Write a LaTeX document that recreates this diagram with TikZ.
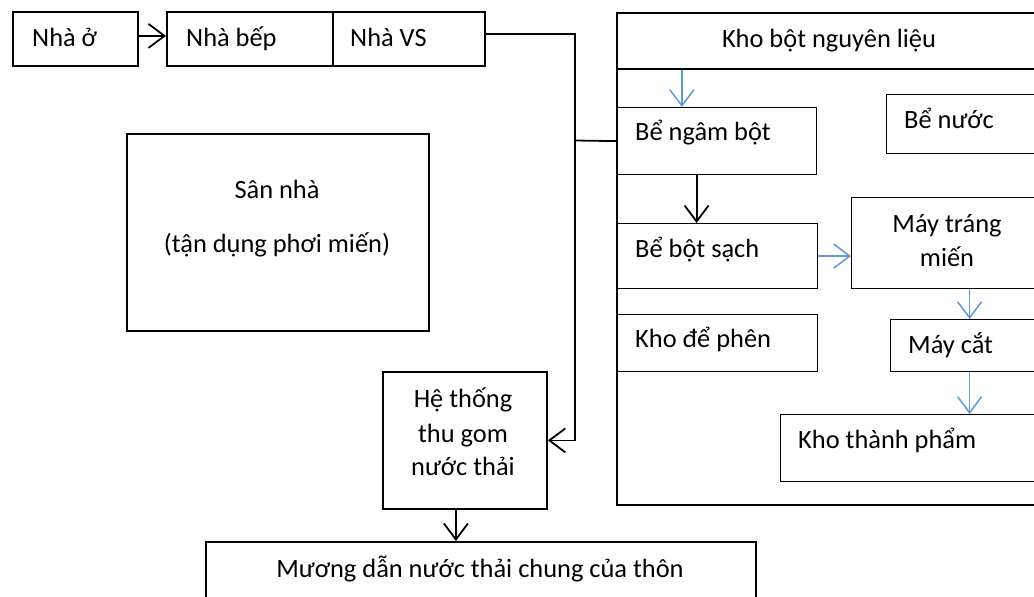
\documentclass[tikz,border=0pt]{standalone}
\usepackage{fontspec}
\setmainfont{Carlito}
\usetikzlibrary{arrows.meta}
\definecolor{flowblue}{RGB}{91,155,213}
\begin{document}
\begin{tikzpicture}[x=1pt,y=-1pt,
  font=\fontsize{26.4}{34}\selectfont,
  box/.style={draw, line width=1.8pt, inner sep=0pt, anchor=north west},
  cell/.style={draw, line width=1.2pt, inner sep=0pt, anchor=north west},
  txt/.style={inner sep=0pt, anchor=base west},
  ctxt/.style={inner sep=0pt, anchor=base},
  flow/.style={line width=1.8pt, -{Straight Barb[length=16pt,width=24pt]}},
  feed/.style={draw=flowblue, line width=1.5pt, -{Straight Barb[length=16pt,width=24pt]}},
  wire/.style={line width=1.8pt},
]
\useasboundingbox (0,0) rectangle (1034,597);
\clip (0,0) rectangle (1034,597);

% top row of houses
\node[box, minimum width=125pt, minimum height=54pt] (nhao) at (12,11) {};
\node[txt] (nhao-t) at (32,46) {Nhà ở};
\node[box, minimum width=166pt, minimum height=54pt] (bep) at (166,11) {};
\node[txt] (bep-t) at (186,46) {Nhà bếp};
\node[box, minimum width=152pt, minimum height=54pt] (vs) at (332,11) {};
\node[txt] (vs-t) at (350,46) {Nhà VS};

% yard
\node[box, minimum width=302pt, minimum height=197pt] (san) at (126,133) {};
\node[ctxt] (san-t1) at (277,198) {Sân nhà};
\node[ctxt] (san-t2) at (277,252) {(tận dụng phơi miến)};

% waste water collection and village ditch
\node[box, minimum width=164pt, minimum height=137pt] (heth) at (382,371) {};
\node[ctxt] (heth-t1) at (463,407) {Hệ thống};
\node[ctxt] (heth-t2) at (463,442) {thu gom};
\node[ctxt] (heth-t3) at (463,475) {nước thải};
\node[box, minimum width=550pt, minimum height=80pt] (muong) at (205,541) {};
\node[ctxt] (muong-t) at (480,577) {Mương dẫn nước thải chung của thôn};

% workshop
\node[box, minimum width=427pt, minimum height=492pt] (kho) at (616,12) {};
\node[box, minimum width=427pt, minimum height=56pt] (hdr) at (616,12) {};
\node[ctxt] (hdr-t) at (829,47) {Kho bột nguyên liệu};

\node[cell, minimum width=200pt, minimum height=67pt] (ngam) at (616,107) {};
\node[txt] (ngam-t) at (635,140) {Bể ngâm bột};
\node[cell, minimum width=157pt, minimum height=59pt] (nuoc) at (886,94) {};
\node[txt] (nuoc-t) at (904,128) {Bể nước};
\node[cell, minimum width=200pt, minimum height=65pt] (sach) at (617,223) {};
\node[txt] (sach-t) at (635,257) {Bể bột sạch};
\node[cell, minimum width=192pt, minimum height=91pt] (trang) at (851,197) {};
\node[ctxt] (trang-t1) at (947,232) {Máy tráng};
\node[ctxt] (trang-t2) at (947,266) {miến};
\node[cell, minimum width=200pt, minimum height=57pt] (phen) at (617,314) {};
\node[txt] (phen-t) at (635,347) {Kho để phên};
\node[cell, minimum width=153pt, minimum height=52pt] (cat) at (890,319) {};
\node[txt] (cat-t) at (908,353) {Máy cắt};
\node[cell, minimum width=263pt, minimum height=67pt] (tp) at (780,414) {};
\node[txt] (tp-t) at (798,448) {Kho thành phẩm};

% junctions of the drain line
\coordinate (trunk) at (575,200);
\coordinate (tee) at (575,140.5);

% connectors
\draw[flow] ([yshift=3pt]nhao.east) -- ([yshift=3pt]bep.west);
\draw[flow] ([yshift=5pt]vs.east) -| (trunk) |- (heth.east);
\draw[wire] (tee) -- (ngam.west);
\draw[flow] ([xshift=-9pt]heth.south) -- ([xshift=-9pt]heth.south |- muong.north);

\draw[feed] ([xshift=-148.5pt]hdr.south) -- ([xshift=-148.5pt]hdr.south |- ngam.north);
\draw[flow] ([xshift=-20pt]ngam.south) -- ([xshift=-20pt]ngam.south |- sach.north);
\draw[feed] (sach.east) -- (sach.east -| trang.west);
\draw[feed] ([xshift=22pt]trang.south) -- ([xshift=22pt]trang.south |- cat.north);
\draw[feed] ([xshift=2.5pt]cat.south) -- ([xshift=2.5pt]cat.south |- tp.north);
\end{tikzpicture}
\end{document}
